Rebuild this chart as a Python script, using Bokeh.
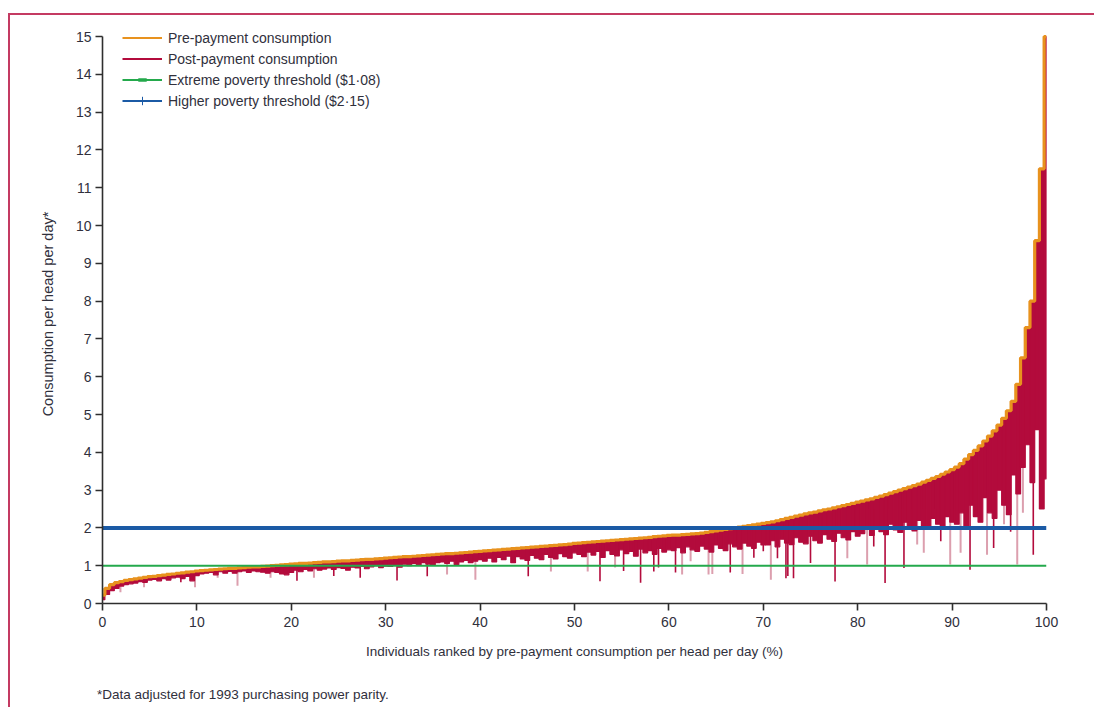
from bokeh.plotting import figure
from bokeh.layouts import column
from bokeh.models import (Legend, LegendItem, Div, FixedTicker, Range1d)
from bokeh.embed import file_html
from bokeh.resources import INLINE

# ---------------- data ----------------
# individuals ranked by pre-payment consumption (%), 0.5 % bins
rank_pct = [i * 0.5 for i in range(201)]

pre_payment = [
    0.22, 0.40, 0.50, 0.55, 0.58, 0.61, 0.63, 0.65, 0.67, 0.69, 0.71, 0.72, 0.74, 0.75, 0.77, 0.78, 0.80, 0.81, 0.83, 0.84, 0.86,
    0.87, 0.88, 0.89, 0.90, 0.91, 0.92, 0.93, 0.93, 0.94, 0.95, 0.96, 0.97, 0.97, 0.98, 0.99, 1.00, 1.01, 1.02, 1.03, 1.04,
    1.05, 1.06, 1.06, 1.07, 1.08, 1.09, 1.10, 1.10, 1.11, 1.12, 1.13, 1.13, 1.14, 1.15, 1.16, 1.17, 1.17, 1.18, 1.19, 1.20,
    1.21, 1.22, 1.23, 1.24, 1.24, 1.25, 1.26, 1.27, 1.28, 1.29, 1.30, 1.31, 1.32, 1.32, 1.33, 1.34, 1.35, 1.36, 1.37, 1.38,
    1.39, 1.40, 1.41, 1.42, 1.43, 1.44, 1.45, 1.46, 1.47, 1.48, 1.49, 1.50, 1.51, 1.52, 1.53, 1.54, 1.55, 1.56, 1.57, 1.59,
    1.60, 1.61, 1.62, 1.63, 1.64, 1.65, 1.66, 1.67, 1.68, 1.69, 1.70, 1.71, 1.72, 1.73, 1.74, 1.75, 1.77, 1.78, 1.79, 1.80,
    1.81, 1.81, 1.82, 1.83, 1.84, 1.85, 1.86, 1.88, 1.90, 1.92, 1.94, 1.96, 1.98, 2.00, 2.02, 2.04, 2.06, 2.08, 2.10, 2.12,
    2.14, 2.16, 2.19, 2.22, 2.25, 2.28, 2.31, 2.34, 2.37, 2.40, 2.42, 2.45, 2.48, 2.50, 2.53, 2.56, 2.59, 2.62, 2.65, 2.68,
    2.71, 2.74, 2.77, 2.81, 2.84, 2.88, 2.92, 2.96, 3.00, 3.04, 3.08, 3.12, 3.16, 3.21, 3.26, 3.31, 3.36, 3.42, 3.48, 3.54,
    3.61, 3.70, 3.82, 3.94, 4.05, 4.17, 4.30, 4.43, 4.57, 4.72, 4.90, 5.10, 5.35, 5.80, 6.50, 7.30, 8.00, 9.60, 11.5, 15.0,
]

post_payment = [
    0.10, 0.24, 0.34, 0.40, 0.46, 0.50, 0.52, 0.54, 0.58, 0.56, 0.62, 0.64, 0.60, 0.66, 0.62, 0.68, 0.70, 0.66, 0.72, 0.60, 0.74,
    0.78, 0.80, 0.82, 0.76, 0.84, 0.80, 0.85, 0.80, 0.84, 0.86, 0.82, 0.86, 0.84, 0.83, 0.80, 0.84, 0.82, 0.78, 0.76, 0.82,
    0.88, 0.84, 0.90, 0.86, 0.92, 0.88, 0.91, 0.94, 0.90, 0.95, 0.93, 0.88, 0.96, 0.94, 0.98, 0.92, 0.97, 1.00, 0.95, 0.99,
    0.98, 1.02, 0.96, 1.04, 1.00, 1.06, 1.02, 1.08, 1.04, 1.01, 1.08, 1.10, 1.06, 1.12, 1.03, 1.10, 1.14, 1.08, 1.12, 1.16,
    1.12, 1.20, 1.10, 1.22, 1.16, 1.25, 1.08, 1.24, 1.18, 1.14, 1.27, 1.20, 1.16, 1.30, 1.22, 1.18, 1.32, 1.24, 1.20, 1.34,
    1.30, 1.24, 1.36, 1.28, 1.38, 1.22, 1.40, 1.30, 1.26, 1.42, 1.32, 1.38, 1.25, 1.44, 1.34, 1.40, 1.30, 1.46, 1.36, 1.42,
    1.40, 1.48, 1.34, 1.50, 1.42, 1.38, 1.52, 1.44, 1.36, 1.55, 1.46, 1.40, 1.58, 1.50, 1.44, 1.60, 1.52, 1.46, 1.62, 1.55,
    1.55, 1.66, 1.50, 1.70, 1.60, 1.56, 1.74, 1.62, 1.58, 1.78, 1.66, 1.60, 1.82, 1.70, 1.64, 1.86, 1.74, 1.68, 1.90, 1.78,
    1.85, 2.00, 1.80, 2.05, 1.90, 1.82, 2.10, 1.95, 1.88, 2.15, 2.00, 1.92, 2.20, 2.05, 1.96, 2.25, 2.10, 2.02, 2.30, 2.15,
    2.10, 2.40, 2.00, 2.60, 2.30, 2.15, 2.80, 2.40, 2.25, 3.00, 2.60, 2.35, 3.40, 2.90, 3.60, 4.20, 3.20, 4.60, 2.50, 3.30,
]

# individual deep drops (post-payment) drawn as thin lines
deep_drop_x = [8.3, 20.6, 24.5, 27.3, 31.2, 34.4, 45.1, 52.7, 55.2, 57.0, 58.4, 58.9, 60.7, 66.5,
               69.0, 70.0, 71.5, 72.4, 72.6, 73.2, 75.0, 77.6, 81.7, 82.9, 84.9, 88.8, 91.9, 94.4,
               96.2, 98.6]
deep_drop_low = [0.56, 0.60, 0.73, 0.68, 0.61, 0.72, 0.72, 0.59, 0.86, 0.55, 0.85, 0.95, 0.82, 0.82,
                 1.21, 1.38, 1.20, 0.67, 0.73, 0.67, 1.07, 0.58, 1.51, 0.54, 0.94, 1.65, 0.89, 1.47,
                 1.90, 1.29]
light_drop_x = [1.9, 4.4, 9.8, 12.2, 14.3, 17.8, 22.4, 36.5, 39.5, 47.5, 51.4, 54.3, 61.4, 62.3,
                64.2, 64.6, 67.8, 70.8, 78.9, 81.0, 86.3, 87.0, 89.8, 90.9, 93.7, 95.5, 96.9,
                97.5, 99.3]
light_drop_low = [0.30, 0.43, 0.43, 0.68, 0.47, 0.68, 0.68, 0.77, 0.63, 0.85, 0.85, 0.95, 0.77, 1.12,
                  0.77, 0.78, 0.78, 0.63, 1.20, 1.03, 1.56, 1.34, 1.03, 1.34, 1.29, 2.10, 1.03,
                  2.40, 2.50]

thresholds = [1.0, 2.0]
threshold_labels = ["Extreme poverty threshold ($1·08)", "Higher poverty threshold ($2·15)"]

x_ticks = [0, 10, 20, 30, 40, 50, 60, 70, 80, 90, 100]
y_ticks = list(range(0, 16))

assert len(pre_payment) == len(rank_pct) == len(post_payment)
assert len(deep_drop_x) == len(deep_drop_low) and len(light_drop_x) == len(light_drop_low)

# ---------------- style ----------------
ORANGE = "#e8921e"
CRIMSON = "#b30b3c"
PINK = "#dc9fae"
BLUE = "#1b5aa5"
GREEN = "#24a94c"
FRAME = "#c43a62"
TEXT = "#30303c"
FONT = "Liberation Sans"

p = figure(width=1094, height=685, output_backend="svg", toolbar_location=None,
           x_range=Range1d(0, 100), y_range=Range1d(0, 15.32),
           min_border_left=102, min_border_right=48, min_border_top=24, min_border_bottom=82)
p.outline_line_color = None
p.xgrid.visible = False
p.ygrid.visible = False
p.background_fill_color = "white"
p.border_fill_alpha = 0

pre_at = dict(zip(rank_pct, pre_payment))
def top_of(x):
    return pre_at[round(x * 2) / 2]

p.segment(x0=light_drop_x, x1=light_drop_x, y0=light_drop_low,
          y1=[top_of(x) for x in light_drop_x], line_color=PINK, line_width=2)
p.segment(x0=deep_drop_x, x1=deep_drop_x, y0=deep_drop_low,
          y1=[top_of(x) for x in deep_drop_x], line_color=CRIMSON, line_width=1.6)
p.vbar(x=rank_pct, width=0.5, top=pre_payment, bottom=post_payment,
       fill_color=CRIMSON, line_color=CRIMSON, line_width=1.2)
p.step(x=rank_pct, y=pre_payment, mode="center", line_color=ORANGE, line_width=3.2)

p.line(x=[rank_pct[0], rank_pct[-1]], y=[thresholds[0]] * 2, line_color=GREEN, line_width=2)
p.line(x=[rank_pct[0], rank_pct[-1]], y=[thresholds[1]] * 2, line_color=BLUE, line_width=4)

# legend-only proxies (kept outside the visible range)
r_pre_leg = p.line(x=[-20, -10], y=[1, 1], line_color=ORANGE, line_width=2)
r_post_leg = p.line(x=[-20, -10], y=[1, 1], line_color=CRIMSON, line_width=2)
r_green_leg = p.line(x=[-20, -10], y=[1, 1], line_color=GREEN, line_width=2)
r_green_mk = p.scatter(x=[-15], y=[1], marker="dash", size=6, line_color=GREEN, line_width=3.5)
r_blue_leg = p.line(x=[-20, -10], y=[1, 1], line_color=BLUE, line_width=2)
r_blue_mk = p.scatter(x=[-15], y=[1], marker="cross", size=6, line_color=BLUE, line_width=1)

legend = Legend(items=[
    LegendItem(label="Pre-payment consumption", renderers=[r_pre_leg]),
    LegendItem(label="Post-payment consumption", renderers=[r_post_leg]),
    LegendItem(label=threshold_labels[0], renderers=[r_green_leg, r_green_mk]),
    LegendItem(label=threshold_labels[1], renderers=[r_blue_leg, r_blue_mk]),
], location=(20, 492))
legend.padding = 0
legend.margin = 0
legend.spacing = 0
legend.label_height = 21
legend.glyph_height = 21
legend.glyph_width = 40
legend.label_standoff = 6
legend.background_fill_alpha = 0
legend.border_line_alpha = 0
legend.label_text_font = FONT
legend.label_text_font_size = "14px"
legend.label_text_color = TEXT
p.add_layout(legend)

for ax in (p.xaxis[0], p.yaxis[0]):
    ax.axis_line_color = "#2e2e2e"
    ax.axis_line_width = 1.6
    ax.major_tick_line_color = "#2e2e2e"
    ax.major_tick_line_width = 1.6
    ax.major_tick_in = 0
    ax.major_tick_out = 7
    ax.minor_tick_line_color = None
    ax.major_label_text_font = FONT
    ax.major_label_text_font_size = "14px"
    ax.major_label_text_color = TEXT
    ax.axis_label_text_font = FONT
    ax.axis_label_text_font_style = "normal"
    ax.axis_label_text_color = TEXT

p.yaxis.bounds = (0, 15)
p.xaxis.ticker = FixedTicker(ticks=x_ticks)
p.yaxis.ticker = FixedTicker(ticks=y_ticks)
p.xaxis.major_label_standoff = 6
p.yaxis.major_label_standoff = 4
p.xaxis.axis_label = "Individuals ranked by pre-payment consumption per head per day (%)"
p.yaxis.axis_label = "Consumption per head per day*"
p.xaxis.axis_label_text_font_size = "13.5px"
p.yaxis.axis_label_text_font_size = "14.5px"
p.xaxis.axis_label_standoff = 14
p.yaxis.axis_label_standoff = 17

# footnote
foot = Div(text="*Data adjusted for 1993 purchasing power parity.", width=997, height=22,
           margin=(0, 0, 0, 97),
           styles={"font-family": FONT, "font-size": "13.5px", "color": TEXT,
                   "line-height": "20px", "white-space": "nowrap"})

# page frame (thin crimson rule at top and left of the page)
page = column(p, foot, spacing=0, width=1094, height=707, styles={
    "background-color": "white",
    "background-image": f"linear-gradient({FRAME}, {FRAME}), linear-gradient({FRAME}, {FRAME})",
    "background-size": "2px 700px, 1090px 2px",
    "background-position": "8px 13px, 8px 13px",
    "background-repeat": "no-repeat",
})

open("out.html", "w").write(file_html(page, INLINE))
